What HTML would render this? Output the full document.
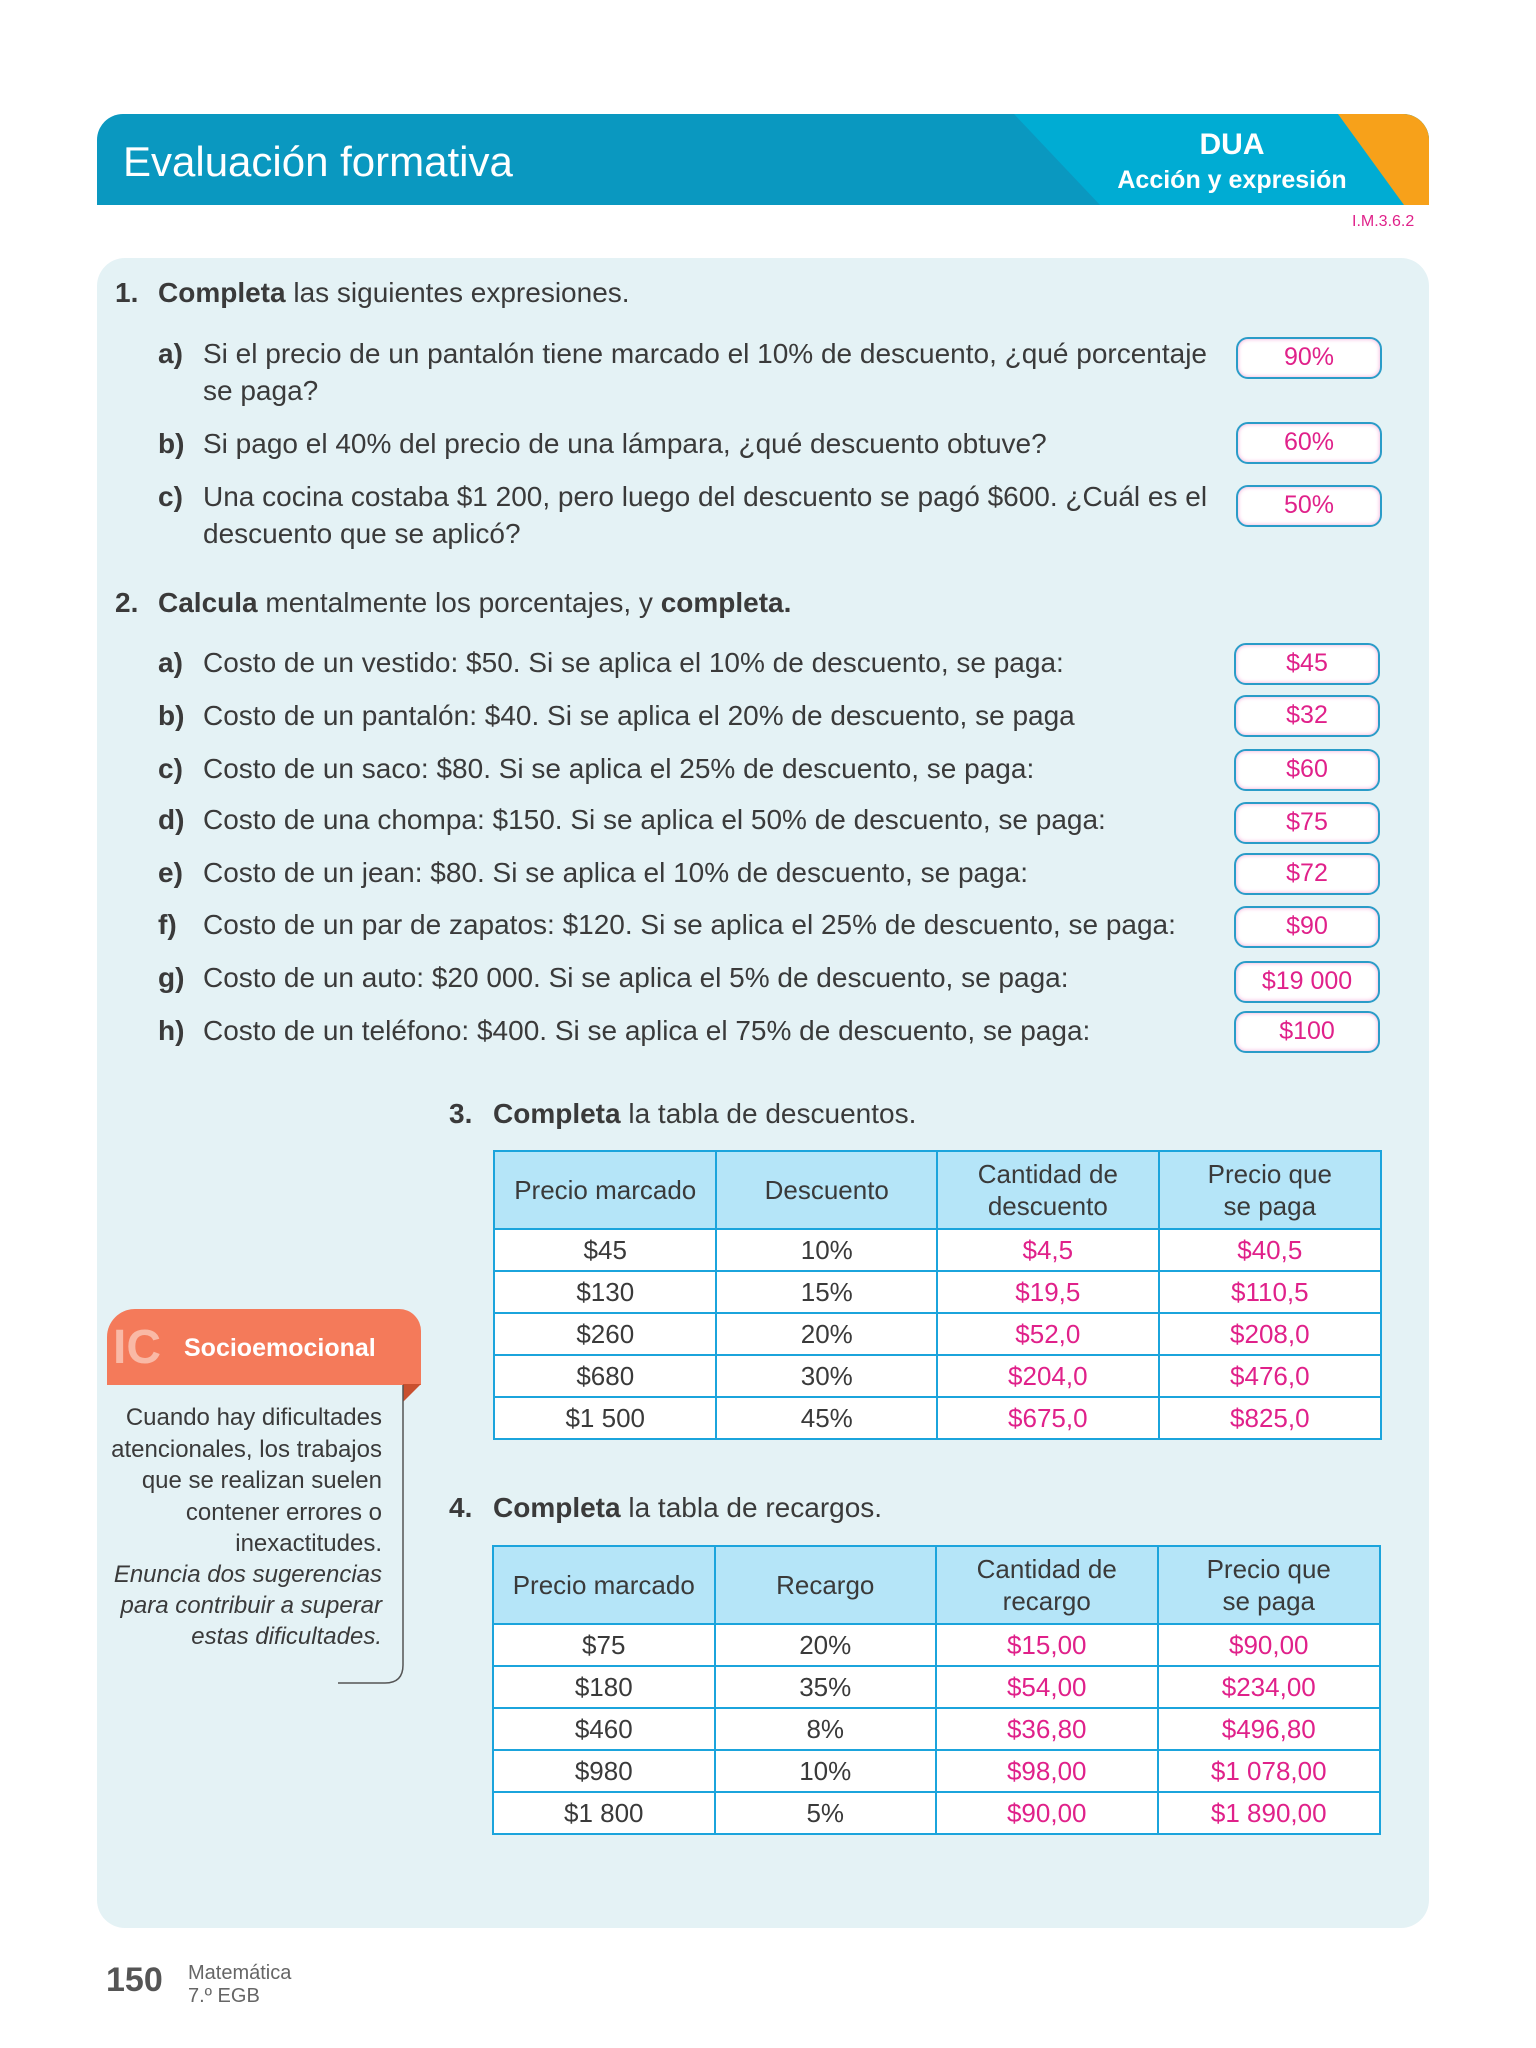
<!DOCTYPE html>
<html><head><meta charset="utf-8"><style>
*{margin:0;padding:0;box-sizing:border-box}
body{width:1536px;height:2048px;background:#fff;position:relative;font-family:"Liberation Sans",sans-serif;color:#3a3a3a;overflow:hidden}
.a{position:absolute;white-space:nowrap;line-height:36px;font-size:28px}
.box{position:absolute;width:146px;height:42px;border:2.5px solid #2a9cc8;border-radius:12px;background:#fff;box-shadow:inset 0 0 4px #f2a6d6;color:#e0218a;font-size:25px;text-align:center;line-height:37px}
table{position:absolute;border-collapse:collapse;font-size:26px}
td{border:2px solid #1ba4dc;text-align:center;background:#fff;height:42px;padding:0}
tr.h td{background:#b5e5f8;height:78px;line-height:32px}
.p{color:#e0218a}
.s{position:absolute;right:1154px;text-align:right;font-size:24px;line-height:31px;white-space:nowrap}
</style></head><body>
<div style="position:absolute;left:97px;top:114px;width:1332px;height:91px;border-radius:26px 26px 0 0;overflow:hidden;background:#0a98c0">
<svg width="1332" height="91" style="position:absolute;left:0;top:0"><polygon points="917,0 1332,0 1332,91 1003,91" fill="#00acd3"/><polygon points="1241,0 1332,0 1332,91 1307,91" fill="#f7a11a"/></svg>
</div>
<div class="a" style="left:123px;top:136px;font-size:42px;line-height:52px;color:#fff">Evaluación formativa</div>
<div class="a" style="left:1100px;width:264px;text-align:center;top:127px;font-size:30px;font-weight:bold;color:#fff">DUA</div>
<div class="a" style="left:1100px;width:264px;text-align:center;top:162px;font-size:25px;font-weight:bold;color:#fff">Acción y expresión</div>
<div class="a" style="left:1352px;top:212px;font-size:16px;line-height:20px;color:#e0218a">I.M.3.6.2</div>
<div style="position:absolute;left:97px;top:258px;width:1332px;height:1670px;border-radius:28px;background:#e4f2f5"></div>

<div class="a" style="left:115px;top:275px"><b>1.</b></div><div class="a" style="left:158px;top:275px"><b>Completa</b> las siguientes expresiones.</div>
<div class="a" style="left:158px;top:336px"><b>a)</b></div><div class="a" style="left:203px;top:336px">Si el precio de un pantalón tiene marcado el 10% de descuento, ¿qué porcentaje</div>
<div class="a" style="left:203px;top:373px">se paga?</div>
<div class="a" style="left:158px;top:426px"><b>b)</b></div><div class="a" style="left:203px;top:426px">Si pago el 40% del precio de una lámpara, ¿qué descuento obtuve?</div>
<div class="a" style="left:158px;top:479px"><b>c)</b></div><div class="a" style="left:203px;top:479px">Una cocina costaba $1 200, pero luego del descuento se pagó $600. ¿Cuál es el</div>
<div class="a" style="left:203px;top:516px">descuento que se aplicó?</div>
<div class="box" style="left:1236px;top:337px">90%</div>
<div class="box" style="left:1236px;top:422px">60%</div>
<div class="box" style="left:1236px;top:485px">50%</div>

<div class="a" style="left:115px;top:585px"><b>2.</b></div><div class="a" style="left:158px;top:585px"><b>Calcula</b> mentalmente los porcentajes, y <b>completa.</b></div>
<div class="a" style="left:158px;top:645px"><b>a)</b></div><div class="a" style="left:203px;top:645px">Costo de un vestido: $50. Si se aplica el 10% de descuento, se paga:</div>
<div class="a" style="left:158px;top:698px"><b>b)</b></div><div class="a" style="left:203px;top:698px">Costo de un pantalón: $40. Si se aplica el 20% de descuento, se paga</div>
<div class="a" style="left:158px;top:751px"><b>c)</b></div><div class="a" style="left:203px;top:751px">Costo de un saco: $80. Si se aplica el 25% de descuento, se paga:</div>
<div class="a" style="left:158px;top:802px"><b>d)</b></div><div class="a" style="left:203px;top:802px">Costo de una chompa: $150. Si se aplica el 50% de descuento, se paga:</div>
<div class="a" style="left:158px;top:855px"><b>e)</b></div><div class="a" style="left:203px;top:855px">Costo de un jean: $80. Si se aplica el 10% de descuento, se paga:</div>
<div class="a" style="left:158px;top:907px"><b>f)</b></div><div class="a" style="left:203px;top:907px">Costo de un par de zapatos: $120. Si se aplica el 25% de descuento, se paga:</div>
<div class="a" style="left:158px;top:960px"><b>g)</b></div><div class="a" style="left:203px;top:960px">Costo de un auto: $20 000. Si se aplica el 5% de descuento, se paga:</div>
<div class="a" style="left:158px;top:1013px"><b>h)</b></div><div class="a" style="left:203px;top:1013px">Costo de un teléfono: $400. Si se aplica el 75% de descuento, se paga:</div>
<div class="box" style="left:1234px;top:643px">$45</div>
<div class="box" style="left:1234px;top:695px">$32</div>
<div class="box" style="left:1234px;top:749px">$60</div>
<div class="box" style="left:1234px;top:802px">$75</div>
<div class="box" style="left:1234px;top:853px">$72</div>
<div class="box" style="left:1234px;top:906px">$90</div>
<div class="box" style="left:1234px;top:961px">$19 000</div>
<div class="box" style="left:1234px;top:1011px">$100</div>

<div class="a" style="left:449px;top:1096px"><b>3.</b></div><div class="a" style="left:493px;top:1096px"><b>Completa</b> la tabla de descuentos.</div>
<table style="left:493px;top:1150px;width:889px">
<colgroup><col style="width:223px"><col style="width:221px"><col style="width:222px"><col style="width:223px"></colgroup>
<tr class="h"><td>Precio marcado</td><td>Descuento</td><td>Cantidad de<br>descuento</td><td>Precio que<br>se paga</td></tr>
<tr><td>$45</td><td>10%</td><td class="p">$4,5</td><td class="p">$40,5</td></tr>
<tr><td>$130</td><td>15%</td><td class="p">$19,5</td><td class="p">$110,5</td></tr>
<tr><td>$260</td><td>20%</td><td class="p">$52,0</td><td class="p">$208,0</td></tr>
<tr><td>$680</td><td>30%</td><td class="p">$204,0</td><td class="p">$476,0</td></tr>
<tr><td>$1 500</td><td>45%</td><td class="p">$675,0</td><td class="p">$825,0</td></tr>
</table>

<div class="a" style="left:449px;top:1490px"><b>4.</b></div><div class="a" style="left:493px;top:1490px"><b>Completa</b> la tabla de recargos.</div>
<table style="left:492px;top:1545px;width:889px">
<colgroup><col style="width:222px"><col style="width:222px"><col style="width:222px"><col style="width:223px"></colgroup>
<tr class="h"><td>Precio marcado</td><td>Recargo</td><td>Cantidad de<br>recargo</td><td>Precio que<br>se paga</td></tr>
<tr><td>$75</td><td>20%</td><td class="p">$15,00</td><td class="p">$90,00</td></tr>
<tr><td>$180</td><td>35%</td><td class="p">$54,00</td><td class="p">$234,00</td></tr>
<tr><td>$460</td><td>8%</td><td class="p">$36,80</td><td class="p">$496,80</td></tr>
<tr><td>$980</td><td>10%</td><td class="p">$98,00</td><td class="p">$1 078,00</td></tr>
<tr><td>$1 800</td><td>5%</td><td class="p">$90,00</td><td class="p">$1 890,00</td></tr>
</table>

<div style="position:absolute;left:107px;top:1309px;width:314px;height:76px;background:#f47a5a;border-radius:28px 22px 0 0"></div>
<svg width="20" height="20" style="position:absolute;left:403px;top:1384px"><polygon points="0,0 18,0 0,18" fill="#c9502f"/></svg>
<div class="a" style="left:113px;top:1323px;font-size:48px;line-height:50px;color:#f9b9a6;font-weight:bold">IC</div>
<div class="a" style="left:184px;top:1330px;font-size:25px;font-weight:bold;color:#fff">Socioemocional</div>
<div class="s" style="top:1402px">Cuando hay dificultades</div>
<div class="s" style="top:1434px">atencionales, los trabajos</div>
<div class="s" style="top:1465px">que se realizan suelen</div>
<div class="s" style="top:1497px">contener errores o</div>
<div class="s" style="top:1528px">inexactitudes.</div>
<div class="s" style="top:1559px;font-style:italic">Enuncia dos sugerencias</div>
<div class="s" style="top:1590px;font-style:italic">para contribuir a superar</div>
<div class="s" style="top:1621px;font-style:italic">estas dificultades.</div>
<svg width="80" height="320" style="position:absolute;left:330px;top:1385px"><path d="M73,0 V280 Q73,298 55,298 H8" fill="none" stroke="#555" stroke-width="1.5"/></svg>

<div class="a" style="left:106px;top:1960px;font-size:34px;line-height:40px;font-weight:bold;color:#555">150</div>
<div class="a" style="left:188px;top:1962px;font-size:20px;line-height:22px;color:#666">Matemática</div>
<div class="a" style="left:188px;top:1985px;font-size:20px;line-height:22px;color:#666">7.º EGB</div>
</body></html>
